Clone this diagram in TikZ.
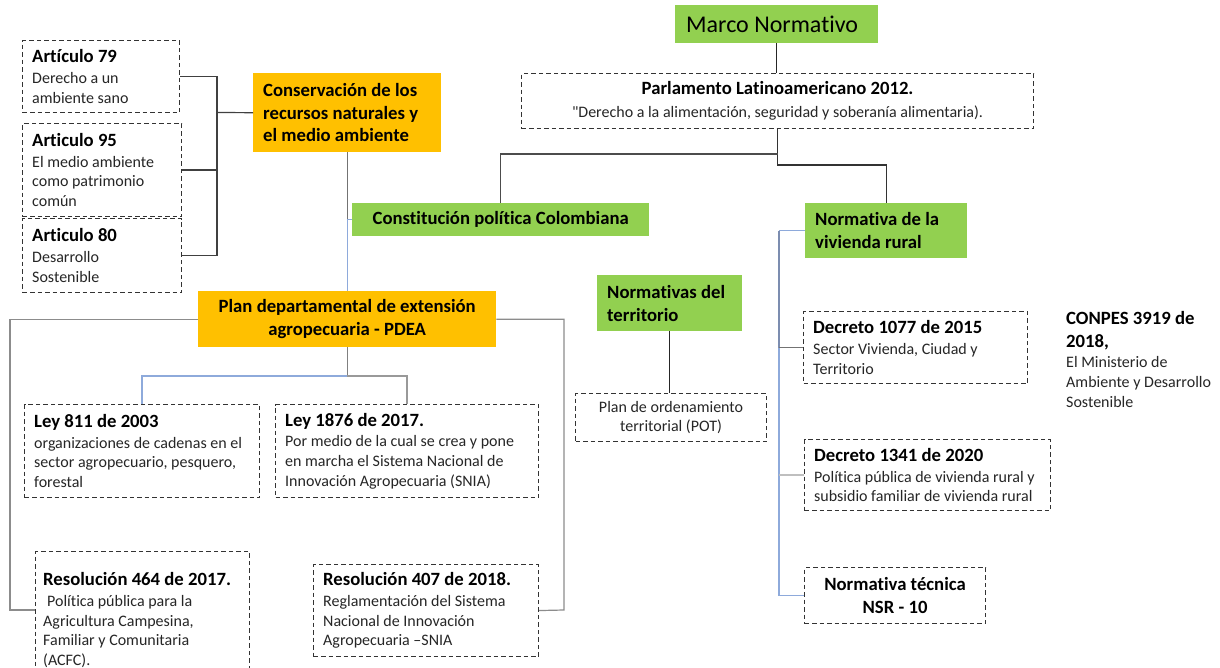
\documentclass[tikz,border=0pt]{standalone}
\usepackage{fontspec}
\setmainfont{Carlito}[Ligatures={NoCommon}]
\newfontfamily\plainquote{Carlito}[Ligatures={NoCommon}]
\newcommand{\bodytxt}{\fontsize{16}{19.8}\selectfont}
\newcommand{\headtxt}{\fontsize{18.7}{22.8}\selectfont\bfseries\color{black}}
\newcommand{\titletxt}{\fontsize{24}{28}\selectfont}
\definecolor{leaf}{HTML}{92D050}
\definecolor{amber}{HTML}{FFC000}
\definecolor{skyline}{HTML}{8EAADB}
\definecolor{slateline}{HTML}{7C8DB0}
\begin{document}
\begin{tikzpicture}[x=1pt,y=-1pt,
  box/.style 2 args={minimum width=#1pt, minimum height=#2pt, anchor=north west, inner sep=0pt},
  dbox/.style={draw=black!80, line width=1.1pt, dash pattern=on 4.5pt off 3pt},
  gbox/.style={fill=leaf},
  obox/.style={fill=amber},
  txt/.style={anchor=west, xshift=10pt, align=left, font=\bodytxt, text=black!85, draw=none, fill=none, inner sep=0pt},
  btxt/.style={anchor=west, xshift=10pt, align=left, font=\headtxt, text=black, draw=none, fill=none, inner sep=0pt},
  ln/.style={line width=1.2pt},
]
\useasboundingbox (0,0) rectangle (1220,668);
\clip (0,0) rectangle (1220,668);
\fill[white] (0,0) rectangle (1220,668);

% ---- top of the tree
\node[box={203}{38}, gbox, label={[btxt, font=\titletxt, xshift=1pt]west:{Marco Normativo}}] (marco) at (675,5) {};
\node[box={512}{55}, dbox, align=center, font=\bodytxt, text=black!85] (parl) at (521,73)
  {{\headtxt Parlamento Latinoamericano 2012.}\\[3pt]{\plainquote"}Derecho a la alimentación, seguridad y soberanía alimentaria).};

% ---- constitution branch
\node[box={297}{33}, gbox, font=\headtxt] (const) at (352,203) {Constitución política Colombiana};
\node[box={188}{79}, obox, label={[btxt]west:{Conservación de los\\recursos naturales y\\el medio ambiente}}] (cons) at (253,73) {};
\node[box={157}{72}, dbox, label={[txt]west:{{\headtxt Artículo 79}\\[1pt]Derecho a un\\ambiente sano}}] (a79) at (22,40) {};
\node[box={159}{93}, dbox, label={[txt]west:{{\headtxt Articulo 95}\\[1pt]El medio ambiente\\como patrimonio\\común}}] (a95) at (22,123) {};
\node[box={159}{74}, dbox, label={[txt]west:{{\headtxt Articulo 80}\\[1pt]Desarrollo\\Sostenible}}] (a80) at (22,218) {};

% ---- extension plan
\node[box={298}{56}, obox, align=center, font=\headtxt] (pdea) at (198,291) {Plan departamental de extensión\\agropecuaria - PDEA};
\node[box={235}{93}, dbox, label={[txt]west:{{\headtxt Ley 811 de 2003}\\[1pt]organizaciones de cadenas en el\\sector agropecuario, pesquero,\\forestal}}] (l811) at (24,404) {};
\node[box={263}{93}, dbox, label={[txt]west:{{\headtxt Ley 1876 de 2017.}\\[1pt]Por medio de la cual se crea y pone\\en marcha el Sistema Nacional de\\Innovación Agropecuaria (SNIA)}}] (l1876) at (275,404) {};
\node[box={214}{137}, dbox, label={[txt, xshift=-2pt]west:{{\headtxt Resolución 464 de 2017.}\\[1pt]\hspace{4pt}Política pública para la\\Agricultura Campesina,\\Familiar y Comunitaria\\(ACFC).}}] (r464) at (35,551) {};
\node[box={225}{92}, dbox, label={[txt]west:{{\headtxt Resolución 407 de 2018.}\\[1pt]Reglamentación del Sistema\\Nacional de Innovación\\Agropecuaria –SNIA}}] (r407) at (313,564) {};

% ---- territory
\node[box={145}{56}, gbox, label={[btxt]west:{Normativas del\\territorio}}] (terr) at (597,275) {};
\node[box={191}{48}, dbox, align=center, font=\bodytxt, text=black!85] (pot) at (575,393) {Plan de ordenamiento\\territorial (POT)};

% ---- rural housing
\node[box={162}{55}, gbox, label={[btxt]west:{Normativa de la\\vivienda rural}}] (viv) at (805,203) {};
\node[box={224}{72}, dbox, label={[txt]west:{{\headtxt Decreto 1077 de 2015}\\[1pt]Sector Vivienda, Ciudad y\\Territorio}}] (d1077) at (803,311) {};
\node[box={246}{71}, dbox, label={[txt]west:{{\headtxt Decreto 1341 de 2020}\\[1pt]Política pública de vivienda rural y\\subsidio familiar de vivienda rural}}] (d1341) at (804,439) {};
\node[box={181}{56}, dbox, align=center, font=\headtxt] (nsr) at (804,567) {Normativa técnica\\NSR - 10};
\node[anchor=north west, inner sep=0pt, align=left, font=\bodytxt, text=black!85] (conpes) at (1066,311)
  {{\headtxt CONPES 3919 de}\\[3pt]{\headtxt 2018,}\\[1pt]El Ministerio de\\Ambiente y Desarrollo\\Sostenible};

% ---- connectors
\coordinate (artbus) at (217,112.5);
\draw[ln, black!75] (a79.east) -- (a79.east -| artbus) -- (a80.east -| artbus) -- (a80.east);
\draw[ln, black!75] (a95.east) -- (a95.east -| artbus);
\draw[ln, black!75] (artbus) -- (cons.west);

\draw[ln, black!55] (cons.south) -- (cons.south |- const.west);
\draw[ln, skyline] (cons.south |- const.west) -- (const.west);
\draw[ln, skyline] (cons.south |- const.west) -- (pdea.north);

\coordinate (pj1) at (777,154);
\coordinate (pj2) at (777,165);
\draw[ln, black!85] (marco.south) -- (marco.south |- parl.north);
\draw[ln, black!80] (parl.south) -- (parl.south |- pj2) -| (viv.north);
\draw[ln, black!70] (parl.south |- pj1) -| (const.north);

\coordinate (lb) at (10,610);
\coordinate (rb) at (564,610);
\draw[ln, black!45] (pdea.west) -| (lb) -- (r464.west |- lb);
\draw[ln, black!45] (pdea.east) -| (rb) -- (r407.east);
\coordinate (pb) at (347,376);
\draw[ln, black!50] (pdea.south) -- (pdea.south |- pb);
\draw[ln, skyline] (pdea.south |- pb) -| (l811.north);
\draw[ln, black!40] (pdea.south |- pb) -| (l1876.north);

\draw[ln, black!85] (terr.south) -- (terr.south |- pot.north);

\coordinate (vbus) at (779,0);
\draw[ln, skyline] (viv.west) -- (viv.west -| vbus);
\draw[ln, slateline] (viv.west -| vbus) -- (d1077.west -| vbus);
\draw[ln, skyline] (d1077.west -| vbus) -- (nsr.west -| vbus) -- (nsr.west);
\draw[ln, black!55] (d1077.west -| vbus) -- (d1077.west);
\draw[ln, black!25] (d1341.west -| vbus) -- (d1341.west);
\end{tikzpicture}
\end{document}
